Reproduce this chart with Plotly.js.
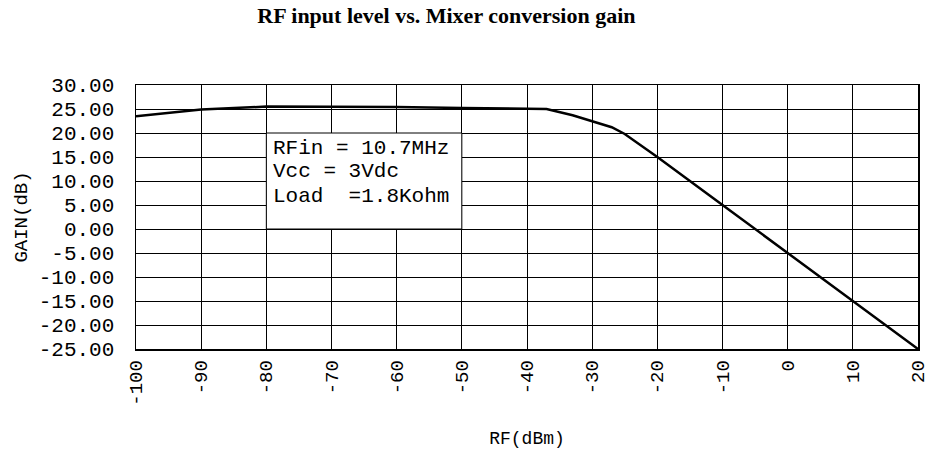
<!DOCTYPE html>
<html>
<head>
<meta charset="utf-8">
<script src="https://cdn.plot.ly/plotly-3.0.1.min.js"></script>
<style>html,body{margin:0;padding:0;background:#fff;}#chart{width:930px;height:457px;}</style>
</head>
<body>
<div id="chart"></div>
<script>
const rfLevel = [-100, -90, -80, -70, -60, -50, -40, -37, -33, -30, -27, -25, -22, -20, -10, 0, 10, 20];
const gainDb  = [23.5, 24.9, 25.5, 25.5, 25.4, 25.2, 25.1, 25.0, 23.7, 22.5, 21.2, 19.8, 17.0, 15.0, 5.0, -5.0, -15.0, -25.0];
const xTickVals = [-100, -90, -80, -70, -60, -50, -40, -30, -20, -10, 0, 10, 20];
const xTickText = ['-100', '-90', '-80', '-70', '-60', '-50', '-40', '-30', '-20', '-10', '0', '10', '20'];
const yTickVals = [30, 25, 20, 15, 10, 5, 0, -5, -10, -15, -20, -25];
const yTickText = ['30.00', '25.00', '20.00', '15.00', '10.00', '5.00', '0.00', '-5.00', '-10.00', '-15.00', '-20.00', '-25.00'];
const noteLines = ['RFin = 10.7MHz', 'Vcc = 3Vdc', 'Load  =1.8Kohm'];
const noteBox = {x0: -80, x1: -50, y0: 0, y1: 20};
const noteY = [16.7, 11.9, 6.8];

const mono = 'Liberation Mono, DejaVu Sans Mono, monospace';

const trace = {
  x: rfLevel, y: gainDb, type: 'scatter', mode: 'lines',
  line: {color: '#000', width: 2.5}, hoverinfo: 'skip', showlegend: false
};

const layout = {
  width: 930, height: 457,
  margin: {l: 136, r: 12, t: 85, b: 108},
  paper_bgcolor: '#fff', plot_bgcolor: '#fff',
  title: {text: '<b>RF input level vs. Mixer conversion gain</b>',
          font: {family: 'Liberation Serif, Times New Roman, serif', size: 22, color: '#000'},
          x: 0.48, xanchor: 'center', y: 0.967, yanchor: 'middle'},
  xaxis: {
    range: [-100, 20.001], tickmode: 'array', tickvals: xTickVals, ticktext: xTickText,
    tickangle: -90, ticks: '', ticklabelstandoff: 2, ticklabeloverflow: 'allow',
    tickfont: {family: mono, size: 19, color: '#000'},
    showgrid: true, gridcolor: '#000', gridwidth: 1, zeroline: false,
    showline: true, linecolor: '#000', linewidth: 1.5, mirror: true,
    title: {text: 'RF(dBm)', font: {family: mono, size: 18, color: '#000'}, standoff: 26}
  },
  yaxis: {
    range: [-25, 30], tickmode: 'array', tickvals: yTickVals, ticktext: yTickText,
    ticks: '', ticklabelstandoff: 16,
    tickfont: {family: mono, size: 21, color: '#000'},
    showgrid: true, gridcolor: '#000', gridwidth: 1, zeroline: false,
    showline: true, linecolor: '#000', linewidth: 1.5, mirror: true,
    title: {text: 'GAIN(dB)', font: {family: mono, size: 19, color: '#000'}, standoff: 6}
  },
  shapes: [{type: 'rect', xref: 'x', yref: 'y', x0: noteBox.x0, x1: noteBox.x1, y0: noteBox.y0, y1: noteBox.y1,
            fillcolor: '#fff', line: {color: '#000', width: 1}, layer: 'above'}],
  annotations: noteLines.map((t, i) => ({
    text: t, x: noteBox.x0, y: noteY[i], xref: 'x', yref: 'y', xanchor: 'left', yanchor: 'middle',
    xshift: 5, showarrow: false, font: {family: mono, size: 21, color: '#000'}
  }))
};

Plotly.newPlot('chart', [trace], layout, {displayModeBar: false, staticPlot: true});
</script>
</body>
</html>
